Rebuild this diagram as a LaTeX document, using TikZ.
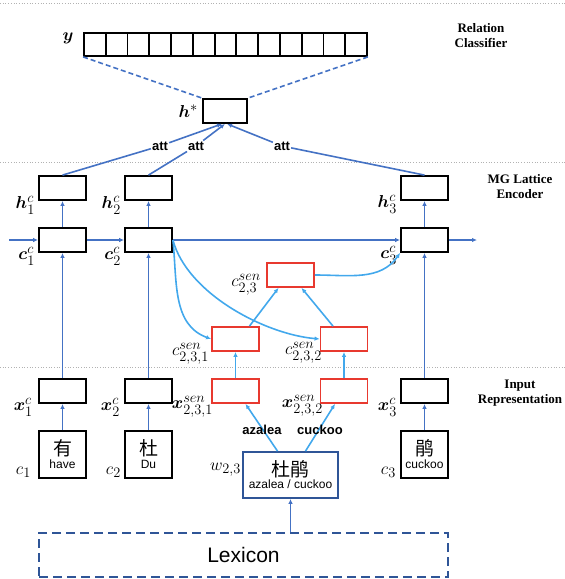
\documentclass[tikz,border=0pt]{standalone}
\usepackage{amsmath}
\usepackage{bm}
\usepackage{fontspec}
\setmainfont{Liberation Serif}
\setsansfont{Liberation Sans}
\newfontfamily\cjk{Noto Sans CJK SC}
\usetikzlibrary{arrows.meta}
\DeclareMathSizes{16.5}{16.5}{13.5}{11}
\definecolor{flowblue}{RGB}{68,114,196}
\definecolor{senblue}{RGB}{66,168,236}
\definecolor{senred}{RGB}{232,57,47}
\definecolor{lexblue}{RGB}{47,85,151}
\tikzstyle{cell}=[draw=black,line width=1.8pt,minimum width=47pt,minimum height=24pt,inner sep=0pt]
\tikzstyle{sense cell}=[cell,draw=senred]
\tikzstyle{ycell}=[cell,minimum width=21.8pt,minimum height=23pt]
\tikzstyle{char box}=[cell,minimum height=47pt,align=center]
\tikzstyle{flow}=[draw=flowblue,line width=1.6pt,-{Latex[length=5pt,width=4.5pt]}]
\tikzstyle{sense flow}=[flow,draw=senblue]
\tikzstyle{mlab}=[anchor=east,inner sep=0pt,font=\fontsize{16.5}{16.5}\selectfont]
\tikzstyle{att}=[fill=white,inner sep=1pt,font=\sffamily\bfseries\fontsize{13}{13}\selectfont]
\tikzstyle{layer}=[align=center,font=\bfseries\fontsize{13}{15}\selectfont]
\tikzstyle{sep}=[draw=black!30,dotted,line width=0.7pt]

\begin{document}
\begin{tikzpicture}[x=1pt,y=-1pt]
    \useasboundingbox (0,0) rectangle (565,579);
    % layer separators and names
    \foreach \yy in {3,162,367}
        \path[sep] (0,\yy) -- (565,\yy);
    \node[layer] (rc) at (481,36) {Relation\\Classifier};
    \node[layer] (mg) at (520,187) {MG Lattice\\Encoder};
    \node[layer] (ir) at (520,393) {Input\\Representation};

    % output vector and h*
    \foreach \i in {0,...,12}
        \node[ycell] (y\i) at ({94.9+21.77*\i},44.5) {};
    \node[cell,minimum width=44pt] (hstar) at (225,111) {};
    \path[draw=flowblue,line width=1.6pt,dashed,dash pattern=on 5pt off 3pt] (y0.south west) -- (hstar.north west);
    \path[draw=flowblue,line width=1.6pt,dashed,dash pattern=on 5pt off 3pt] (y12.south east) -- (hstar.north east);

    % lattice cells
    \foreach \pos/\name in {{(62.5,188)/h1}, {(148.5,188)/h2}, {(424.5,188)/h3}, {(62.5,240)/c1}, {(148.5,240)/c2}, {(424.5,240)/c3}, {(62.5,391)/x1}, {(148.5,391)/x2}, {(424.5,391)/x3}}
        \node[cell] (\name) at \pos {};
    \foreach \pos/\name in {{(290.5,275)/c23}, {(235.5,339)/c231}, {(344,339)/c232}, {(235.5,391)/x231}, {(344,391)/x232}}
        \node[sense cell] (\name) at \pos {};

    % characters, word and lexicon
    \node[char box] (ch1) at (62.5,454.5) {{\cjk\fontsize{19}{19}\selectfont 有}\\[1pt]{\sffamily\fontsize{12}{12}\selectfont have}};
    \node[char box] (ch2) at (148.5,454.5) {{\cjk\fontsize{19}{19}\selectfont 杜}\\[1pt]{\sffamily\fontsize{12}{12}\selectfont Du}};
    \node[char box] (ch3) at (424.5,454.5) {{\cjk\fontsize{19}{19}\selectfont 鹃}\\[1pt]{\sffamily\fontsize{12}{12}\selectfont cuckoo}};
    \node[cell,draw=lexblue,minimum width=95pt,minimum height=46pt,align=center] (w23) at (290.5,475) {{\cjk\fontsize{19}{19}\selectfont 杜鹃}\\[0pt]{\sffamily\fontsize{12}{12}\selectfont azalea / cuckoo}};
    \node[draw=lexblue,line width=2.2pt,dashed,dash pattern=on 9pt off 5pt,minimum width=409pt,minimum height=44pt,font=\sffamily\fontsize{21}{21}\selectfont] (lex) at (243.5,555) {Lexicon};

    % math labels
    \node[mlab,anchor=center] (ly) at (68,38) {$\bm{y}$};
    \node[mlab] (lhs) at (198,111) {$\bm{h}^{*}$};
    \foreach \pos/\txt in {{(35,205)/\bm{h}^c_1}, {(121,205)/\bm{h}^c_2}, {(397,204)/\bm{h}^c_3}, {(35,256)/\bm{c}^c_1}, {(121,256)/\bm{c}^c_2}, {(397,255)/\bm{c}^c_3}, {(33,407)/\bm{x}^c_1}, {(120,407)/\bm{x}^c_2}, {(397,407)/\bm{x}^c_3}, {(31,472)/c_1}, {(121,472)/c_2}, {(396,472)/c_3}, {(261,285)/c^{sen}_{2,3}}, {(209,354)/c^{sen}_{2,3,1}}, {(322,353)/c^{sen}_{2,3,2}}, {(213,407)/\bm{x}^{sen}_{2,3,1}}, {(323,406)/\bm{x}^{sen}_{2,3,2}}, {(241,470)/w_{2,3}}}
        \node[mlab] at \pos {$\txt$};

    % attention
    \node[att] (att1) at (160,146) {att};
    \node[att] (att2) at (196,146) {att};
    \node[att] (att3) at (282,146) {att};
    \path[draw=flowblue,line width=1.6pt] (h1.north) -- (att1);
    \path[draw=flowblue,line width=1.6pt] (h2.north) -- (att2);
    \path[draw=flowblue,line width=1.6pt] (h3.north) -- (att3);
    \draw[flow] (att1) -- ([xshift=-3pt]hstar.south);
    \draw[flow] (att2) -- (hstar.south);
    \draw[flow] (att3) -- ([xshift=2pt]hstar.south);

    % character chain
    \coordinate (cin) at (9,240);
    \coordinate (cout) at (477,240);
    \draw[flow] (cin) -- (c1.west);
    \draw[flow] (c1) -- (c2);
    \draw[flow] (c2) -- (c3);
    \draw[flow] (c3.east) -- (cout);
    \foreach \i in {1,2,3} {
        \draw[flow] (c\i) -- (h\i);
        \draw[flow] (x\i) -- (c\i);
        \draw[flow] (ch\i) -- (x\i);
    }

    % word senses
    \draw[flow] (lex.north -| w23.south) -- (w23.south);
    \draw[sense flow] ([xshift=-13pt]w23.north) -- ([xshift=10pt]x231.south);
    \draw[sense flow] ([xshift=15pt]w23.north) -- ([xshift=-9pt]x232.south);
    \node[att,fill=none] (azalea) at (262,430) {azalea};
    \node[att,fill=none] (cuckoo) at (320,430) {cuckoo};
    \draw[sense flow] (x231) -- (c231);
    \draw[sense flow] (x232) -- (c232);
    \draw[sense flow] ([xshift=14pt]c231.north) -- ([xshift=-12pt]c23.south);
    \draw[sense flow] ([xshift=-11pt]c232.north) -- ([xshift=11pt]c23.south);
    \draw[sense flow] (c2.east) to[out=-84,in=160] (c231.west);
    \draw[sense flow] (c2.east) to[out=-75,in=175,looseness=0.8] (c232.west);
    \draw[sense flow] (c23.east) to[out=0,in=-125] (c3.south west);
\end{tikzpicture}
\end{document}
